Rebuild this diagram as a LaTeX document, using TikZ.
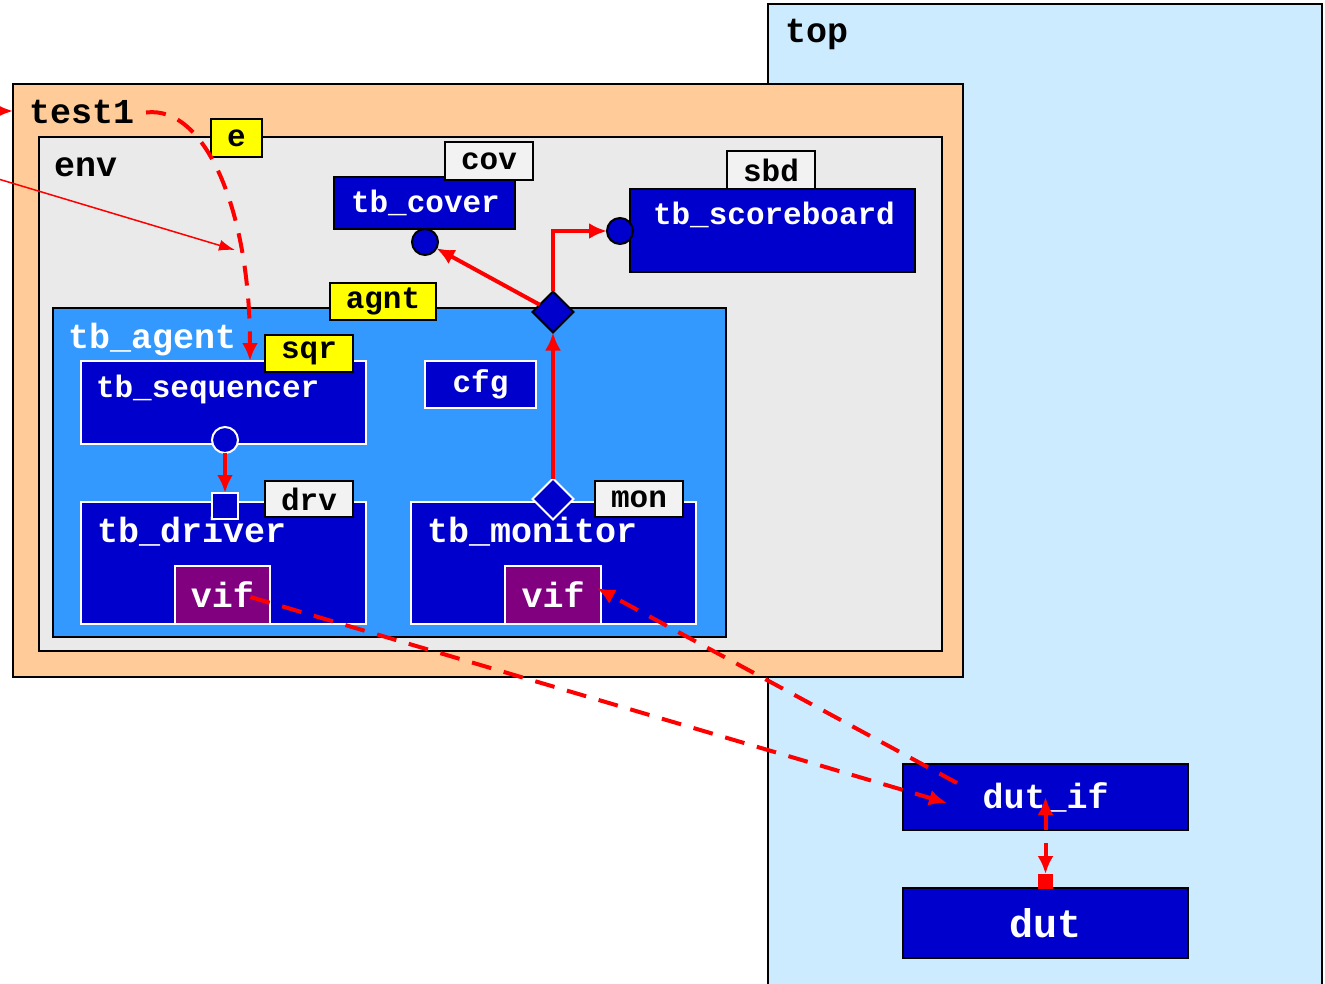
\documentclass[tikz,border=0pt]{standalone}
\usepackage{fontspec}
\setmainfont{Liberation Mono}
\usetikzlibrary{shapes.geometric,positioning,arrows.meta}
\definecolor{topblue}{HTML}{CCEBFF}
\definecolor{testpeach}{HTML}{FFCC99}
\definecolor{envgrey}{HTML}{EAEAEA}
\definecolor{agentblue}{HTML}{3399FF}
\definecolor{compblue}{HTML}{0000CC}
\definecolor{vifpurple}{HTML}{800080}
\definecolor{taggrey}{HTML}{F2F2F2}
\definecolor{tagyellow}{HTML}{FFFF00}
\newcommand{\bigtxt}{\fontsize{35}{40}\selectfont\bfseries}
\newcommand{\smalltxt}{\fontsize{31}{36}\selectfont\bfseries}
\newcommand{\duttxt}{\fontsize{40}{44}\selectfont\bfseries}
\tikzset{>={Latex[length=18pt,width=16pt]}}
\tikzset{
  every node/.style={inner sep=0pt, outer sep=0pt},
  frame/.style={draw=black, line width=2pt, anchor=north west},
  comp/.style={frame, fill=compblue, text=white},
  subcomp/.style={comp, draw=white},
  tagbox/.style={frame, font=\smalltxt, fill=taggrey},
  cfgtag/.style={tagbox, fill=tagyellow},
  lbl/.style={anchor=base west, font=\bigtxt},
  wlbl/.style={lbl, text=white},
  port/.style={circle, draw=black, line width=2pt, fill=compblue, minimum size=26pt},
  wport/.style={port, draw=white},
  apport/.style={diamond, draw=black, line width=2pt, fill=compblue, minimum size=41pt},
  link/.style={red, line width=4pt, ->},
  dlink/.style={link, dash pattern=on 20pt off 13pt},
  thinlink/.style={red, line width=1.5pt, -{Latex[length=16pt,width=11pt]}}
}
\begin{document}
\begin{tikzpicture}[x=1pt, y=-1pt]
  \useasboundingbox (0,0) rectangle (1325,984);
  \clip (0,0) rectangle (1325,984);
  % containers
  \node[frame, fill=topblue, minimum width=554pt, minimum height=1000pt] (top) at (768,4) {};
  \node[lbl] (toplbl) at (785,43) {top};
  \node[frame, fill=testpeach, minimum width=950pt, minimum height=593pt] (test1) at (13,84) {};
  \node[lbl] (t1lbl) at (29,124) {test1};
  \node[frame, fill=envgrey, minimum width=903pt, minimum height=514pt] (env) at (39,137) {};
  \node[lbl] (envlbl) at (54,177) {env};
  \node[frame, fill=agentblue, minimum width=673pt, minimum height=329pt] (agent) at (53,308) {};
  \node[wlbl] (agentlbl) at (68,348) {tb\_agent};
  % components
  \node[comp, minimum width=181pt, minimum height=52pt] (cover) at (334,177) {};
  \node[wlbl, font=\smalltxt] (coverlbl) at (351,213) {tb\_cover};
  \node[comp, minimum width=285pt, minimum height=83pt] (sb) at (630,189) {};
  \node[wlbl, font=\smalltxt] (sblbl) at (653,225) {tb\_scoreboard};
  \node[subcomp, minimum width=285pt, minimum height=83pt] (seq) at (81,361) {};
  \node[wlbl, font=\smalltxt] (seqlbl) at (96,397) {tb\_sequencer};
  \node[subcomp, font=\smalltxt, minimum width=111pt, minimum height=47pt] (cfg) at (425,361) {cfg};
  \node[subcomp, minimum width=285pt, minimum height=122pt] (drv) at (81,502) {};
  \node[wlbl] (drvlbl) at (97,542) {tb\_driver};
  \node[subcomp, minimum width=285pt, minimum height=122pt] (mon) at (411,502) {};
  \node[wlbl] (monlbl) at (427,542) {tb\_monitor};
  \node[subcomp, fill=vifpurple, font=\bigtxt, minimum width=95pt, minimum height=58pt] (vifd) at (175,566) {vif};
  \node[subcomp, fill=vifpurple, font=\bigtxt, minimum width=96pt, minimum height=58pt] (vifm) at (505,566) {vif};
  \node[comp, font=\bigtxt, minimum width=285pt, minimum height=66pt] (dutif) at (903,764) {dut\_if};
  \node[comp, font=\duttxt, minimum width=285pt, minimum height=70pt] (dut) at (903,888) {dut};
  % instance tags
  \node[cfgtag, minimum width=51pt, minimum height=38pt] (etag) at (211,119) {e};
  \node[tagbox, minimum width=88pt, minimum height=38pt] (covtag) at (445,142) {cov};
  \node[tagbox, minimum width=88pt, minimum height=38pt] (sbdtag) at (727,151) {sbd};
  \node[cfgtag, minimum width=106pt, minimum height=37pt] (agnttag) at (330,283) {agnt};
  \node[cfgtag, minimum width=88pt, minimum height=37pt] (sqrtag) at (265,335) {sqr};
  \node[tagbox, minimum width=88pt, minimum height=36pt] (drvtag) at (265,481) {drv};
  \node[tagbox, minimum width=88pt, minimum height=36pt] (montag) at (595,481) {mon};
  % ports
  \node[port] (covp) at (425,242) {};
  \node[port] (sbp) at (620,231) {};
  \node[apport] (agd) at (553,312) {};
  \node[wport] (seqp) at (225,440) {};
  \node[wport, rectangle, minimum size=26pt] (drvp) at (225,506) {};
  \node[apport, draw=white] (mond) at (553,499) {};
  \node[fill=red, minimum size=15pt] (dutp) at (1045.5,881.5) {};
  % free ends
  \coordinate (t1src) at (-20,111);
  \coordinate (envsrc) at (-5,178);
  \coordinate (envdst) at (235,250);
  \coordinate (ifin) at (947,803);
  \coordinate (ifout) at (957,783);
  \coordinate (ifup) at (1045.5,797);
  \coordinate (ifdown) at (1045.5,843);
  % connections
  \draw[link] (t1src) -- ([yshift=-27pt]test1.north west);
  \draw[thinlink] (envsrc) -- (envdst);
  \draw[dlink] ([xshift=12pt]t1lbl.east) .. controls (205,105) and (250,210) .. ([xshift=169pt]seq.north west);
  \draw[link] (seqp) -- (drvp);
  \draw[link] (mond.north) -- (agd.south);
  \draw[link] (agd) -- (covp);
  \draw[link] (agd.north) |- (sbp.west);
  \draw[dlink] ([xshift=28pt,yshift=-2pt]vifd.center) -- (ifin);
  \draw[dlink] (ifout) -- ([xshift=44pt,yshift=7pt]vifm.center);
  \draw[link] (dutif.south) -- (ifup);
  \draw[link] (ifdown) -- (dutp.north);
\end{tikzpicture}
\end{document}
